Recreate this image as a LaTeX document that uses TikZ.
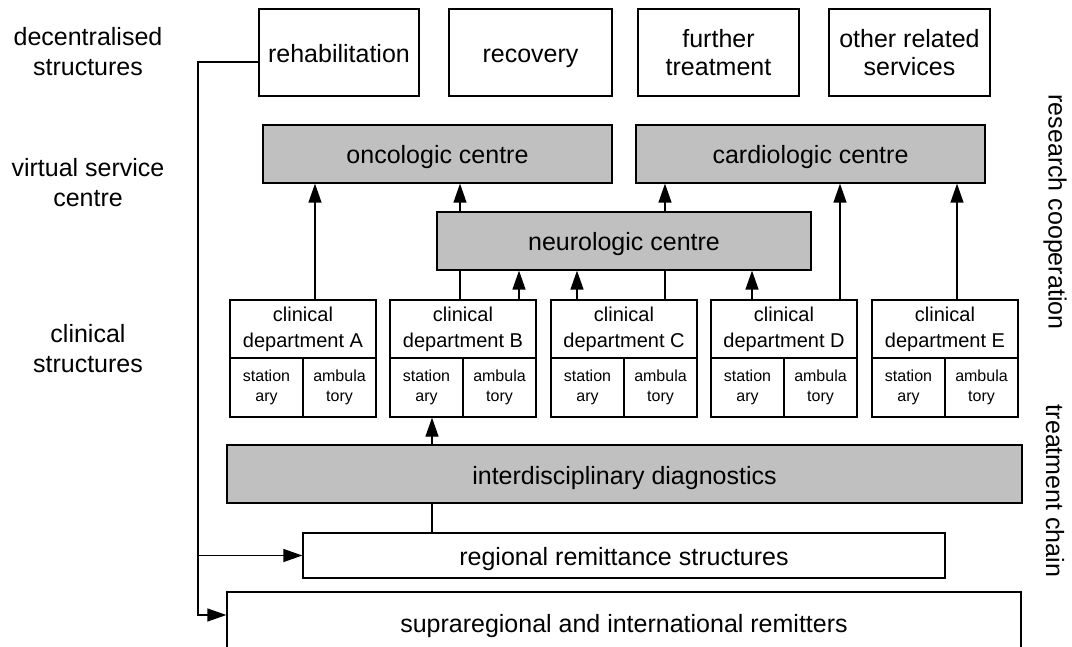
\documentclass[tikz,border=0pt]{standalone}
\usepackage{fontspec}
\setmainfont{Liberation Sans}
\usetikzlibrary{arrows.meta}
\definecolor{centrefill}{HTML}{C0C0C0}
\tikzset{
  box/.style={draw, line width=1.3pt, inner sep=0pt, align=center,
    font=\fontsize{25}{28}\selectfont},
  single/.style={text height=20pt, text depth=0pt},
  grey/.style={box, fill=centrefill},
  dept/.style={draw, line width=1.3pt, inner sep=0pt, align=center,
    minimum width=146pt, minimum height=58pt, font=\fontsize{20}{26}\selectfont},
  cell/.style={draw, line width=1.3pt, inner sep=0pt, align=center,
    minimum width=73pt, minimum height=59pt, font=\fontsize{16}{20}\selectfont},
  levellabel/.style={align=center, inner sep=0pt, font=\fontsize{25}{30}\selectfont},
  sidelabel/.style={rotate=-90, inner sep=0pt, font=\fontsize{25}{28}\selectfont},
  link/.style={line width=1.3pt},
  arr/.style={link, -{Triangle[length=19pt,width=13pt]}},
}
\begin{document}
\begin{tikzpicture}[x=1pt, y=-1pt]
\useasboundingbox (0,0) rectangle (1072,647);
\clip (0,0) rectangle (1072,647);

% level labels
\node[levellabel] (lvl1) at (88,52) {decentralised\\structures};
\node[levellabel] (lvl2) at (88,183) {virtual service\\centre};
\node[levellabel] (lvl3) at (88,349) {clinical\\structures};
\node[sidelabel] (side1) at (1055,212) {research cooperation};
\node[sidelabel] (side2) at (1055,491) {treatment chain};

% decentralised structures
\node[box, single, minimum width=160pt, minimum height=87pt] (rehab) at (339,52.5) {rehabilitation};
\node[box, single, minimum width=163pt, minimum height=87pt] (recov) at (530.5,52.5) {recovery};
\node[box, minimum width=161pt, minimum height=87pt] (further) at (718.5,52.5) {further\\treatment};
\node[box, minimum width=161pt, minimum height=87pt] (other)   at (909.5,52.5) {other related\\services};

% virtual service centres
\node[grey, single, minimum width=349pt, minimum height=58pt] (onco)   at (437.5,154) {oncologic centre};
\node[grey, single, minimum width=349pt, minimum height=58pt] (cardio) at (810.5,154) {cardiologic centre};
\node[grey, single, minimum width=374pt, minimum height=58pt] (neuro)  at (624,241)   {neurologic centre};

% clinical departments
\foreach \n/\L in {A/230, B/390, C/551, D/711, E/872} {
  \node[dept] (dep\n) at (\L+73,329) {clinical\\department \n};
  \node[cell] (dep\n-st)  at (\L+36.5,387.5)  {station\\ary};
  \node[cell] (dep\n-amb) at (\L+109.5,387.5) {ambula\\tory};
}

% diagnostics and remitters
\node[grey, single, minimum width=795pt, minimum height=58pt] (diag)     at (624.5,474) {interdisciplinary diagnostics};
\node[box,  single, minimum width=642pt, minimum height=45pt] (regional) at (624,555.5) {regional remittance structures};
\node[box,  single, minimum width=794pt, minimum height=60pt] (supra)    at (624,622)   {supraregional and international remitters};

% departments to centres
\coordinate (a1) at ([xshift=12pt]depA.north);
\draw[arr] (a1) -- (onco.south -| a1);
\coordinate (b1) at ([xshift=-3pt]depB.north);
\draw[link] (b1) -- (neuro.south -| b1);
\draw[arr] (neuro.north -| b1) -- (onco.south -| b1);
\coordinate (b2) at ([xshift=56pt]depB.north);
\draw[arr] (b2) -- (neuro.south -| b2);
\coordinate (c1) at ([xshift=-47pt]depC.north);
\draw[arr] (c1) -- (neuro.south -| c1);
\coordinate (c2) at ([xshift=41pt]depC.north);
\draw[link] (c2) -- (neuro.south -| c2);
\draw[arr] (neuro.north -| c2) -- (cardio.south -| c2);
\coordinate (d1) at ([xshift=-32pt]depD.north);
\draw[arr] (d1) -- (neuro.south -| d1);
\coordinate (d2) at ([xshift=56pt]depD.north);
\draw[arr] (d2) -- (cardio.south -| d2);
\coordinate (e1) at ([xshift=12pt]depE.north);
\draw[arr] (e1) -- (cardio.south -| e1);

% diagnostics chain
\coordinate (g1) at ([xshift=5.5pt]depB-st.south);
\draw[arr] (diag.north -| g1) -- (g1);
\draw[link] (regional.north -| g1) -- (diag.south -| g1);

% rehabilitation back to the remitters
\coordinate (trunk) at (198,62);
\coordinate (foot) at (198,615);
\draw[arr] (rehab.west |- trunk) -- (trunk) -- (foot) -- (supra.west |- foot);
\draw[arr] (trunk |- regional.west) -- (regional.west);
\end{tikzpicture}
\end{document}
